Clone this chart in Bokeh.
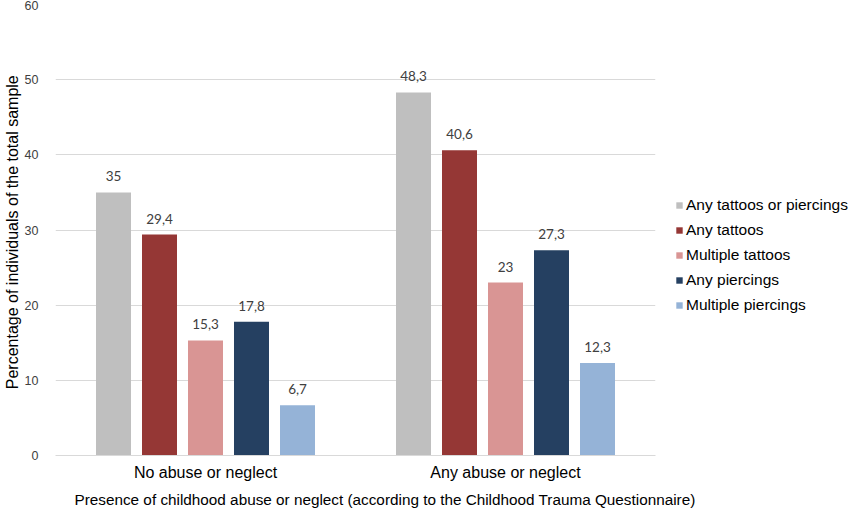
from bokeh.plotting import figure
from bokeh.models import ColumnDataSource, Legend, LegendItem, FactorRange, Title
from bokeh.transform import dodge
from bokeh.core.properties import value
from bokeh.embed import file_html
from bokeh.resources import INLINE

categories = ["No abuse or neglect", "Any abuse or neglect"]
series = ["Any tattoos or piercings", "Any tattoos", "Multiple tattoos", "Any piercings", "Multiple piercings"]
colors = ["#BFBFBF", "#953735", "#D99594", "#254061", "#95B3D7"]
values = {
    "Any tattoos or piercings": [35, 48.3],
    "Any tattoos": [29.4, 40.6],
    "Multiple tattoos": [15.3, 23],
    "Any piercings": [17.8, 27.3],
    "Multiple piercings": [6.7, 12.3],
}
labels = {
    "Any tattoos or piercings": ["35", "48,3"],
    "Any tattoos": ["29,4", "40,6"],
    "Multiple tattoos": ["15,3", "23"],
    "Any piercings": ["17,8", "27,3"],
    "Multiple piercings": ["6,7", "12,3"],
}
y_ticks = [0, 10, 20, 30, 40, 50, 60]

p = figure(frame_width=600, frame_height=451, x_range=FactorRange(*categories), y_range=(0, 60),
           output_backend="svg", toolbar_location=None,
           min_border_left=0, min_border_right=0, min_border_top=4, min_border_bottom=0)
p.outline_line_color = None
p.background_fill_color = None

step = 46 / 300
bw = 35 / 300
items = []
for i, s in enumerate(series):
    src = ColumnDataSource(dict(cat=categories, val=values[s], lab=labels[s]))
    off = (i - 2) * step
    r = p.vbar(x=dodge("cat", off, range=p.x_range), top="val", width=bw, source=src,
               fill_color=colors[i], line_color=None)
    p.text(x=dodge("cat", off, range=p.x_range), y="val", text="lab", source=src,
           text_align="center", text_baseline="bottom", y_offset=-11,
           text_font=value("Lato"), text_font_size="13.5px", text_color="#404040")
    items.append(LegendItem(label=s, renderers=[r]))

p.yaxis.ticker = y_ticks
p.ygrid.grid_line_color = "#D9D9D9"
p.ygrid.grid_line_width = 1
p.xgrid.grid_line_color = None
p.yaxis.axis_line_color = None
p.yaxis.major_tick_line_color = None
p.yaxis.minor_tick_line_color = None
p.yaxis.major_label_text_font = "Liberation Sans"
p.yaxis.major_label_text_font_size = "12.5px"
p.yaxis.major_label_text_color = "#404040"
p.yaxis.major_label_standoff = 11
p.yaxis.axis_label = "Percentage of individuals of  the total sample"
p.yaxis.axis_label_text_font = "Liberation Sans"
p.yaxis.axis_label_text_font_style = "normal"
p.yaxis.axis_label_text_font_size = "16px"
p.yaxis.axis_label_text_color = "#000000"
p.yaxis.axis_label_standoff = 1

p.xaxis.axis_line_color = "#D9D9D9"
p.xaxis.major_tick_line_color = None
p.xaxis.minor_tick_line_color = None
p.xaxis.major_label_text_font = "Liberation Sans"
p.xaxis.major_label_text_font_size = "16px"
p.xaxis.major_label_text_color = "#000000"
p.xaxis.major_label_standoff = 2

xtitle = Title(text="Presence of childhood abuse or neglect (according to the Childhood Trauma Questionnaire)",
               align="left", offset=19, standoff=10,
               text_font="Liberation Sans", text_font_style="normal",
               text_font_size="15.3px", text_color="#000000")
p.add_layout(xtitle, "below")

legend = Legend(items=items, location=(20, 140), orientation="vertical",
                glyph_width=8, glyph_height=8, label_height=20, spacing=5,
                label_standoff=3, padding=0, margin=0,
                border_line_color=None, background_fill_color=None,
                label_text_font="Liberation Sans", label_text_font_size="15.5px",
                label_text_color="#000000")
p.add_layout(legend, "right")

open("out.html", "w").write(file_html(p, INLINE))
